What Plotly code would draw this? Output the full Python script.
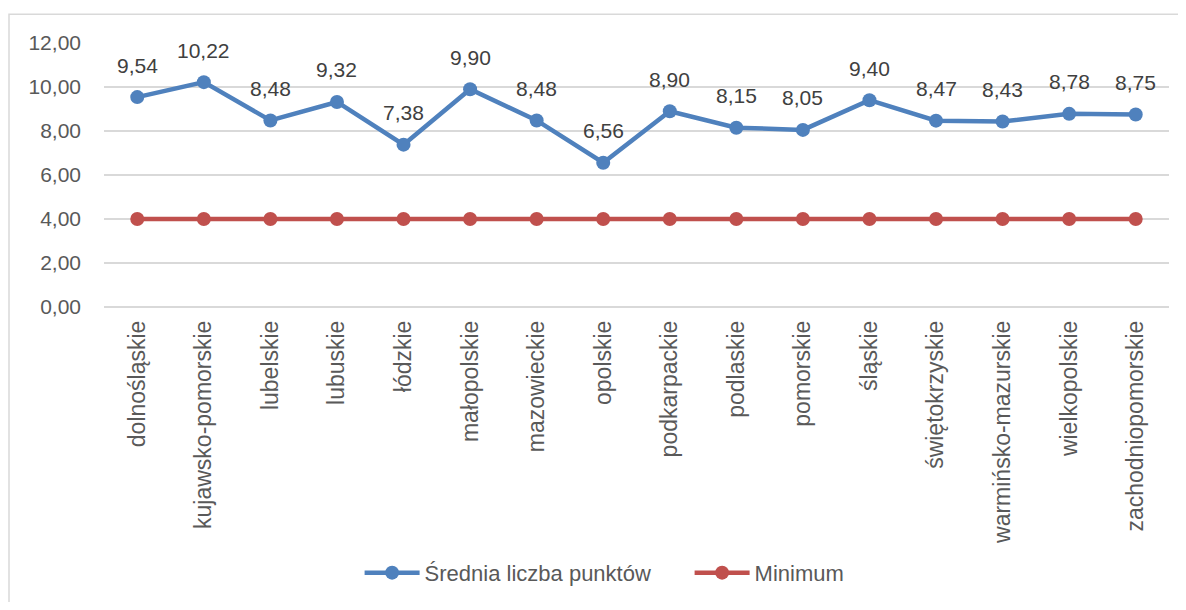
import plotly.graph_objects as go

categories = ["dolnośląskie", "kujawsko-pomorskie", "lubelskie", "lubuskie", "łódzkie",
              "małopolskie", "mazowieckie", "opolskie", "podkarpackie", "podlaskie",
              "pomorskie", "śląskie", "świętokrzyskie", "warmińsko-mazurskie",
              "wielkopolskie", "zachodniopomorskie"]
srednia = [9.54, 10.22, 8.48, 9.32, 7.38, 9.90, 8.48, 6.56, 8.90, 8.15, 8.05, 9.40,
           8.47, 8.43, 8.78, 8.75]
minimum = [4.00] * 16
y_ticks = [0, 2, 4, 6, 8, 10, 12]

FONT = "Liberation Sans"
GRAY = "#595959"

fig = go.Figure()
fig.add_trace(go.Scatter(x=categories, y=srednia, mode="lines+markers",
                         name="Średnia liczba punktów",
                         line=dict(color="#4F81BD", width=4.5),
                         marker=dict(size=14, color="#4F81BD")))
fig.add_trace(go.Scatter(x=categories, y=minimum, mode="lines+markers",
                         name="Minimum",
                         line=dict(color="#C0504D", width=4.5),
                         marker=dict(size=14, color="#C0504D")))

for c, v in zip(categories, srednia):
    fig.add_annotation(x=c, y=v, text=f"{v:.2f}".replace(".", ","), showarrow=False,
                       yshift=32, font=dict(family=FONT, size=21, color="#404040"))

fig.add_shape(type="rect", xref="paper", yref="paper", x0=-0.0892, x1=1.05, y0=-1.3, y1=1.109,
              line=dict(color="#D9D9D9", width=1.5), fillcolor="rgba(0,0,0,0)", layer="below")

fig.update_layout(
    width=1170, height=594,
    margin=dict(l=96, r=9, t=35, b=293),
    paper_bgcolor="white", plot_bgcolor="white",
    separators=", ",
    font=dict(family=FONT, size=18, color=GRAY),
    showlegend=True,
    legend=dict(orientation="h", x=0.24, xanchor="left", y=-1.007, yanchor="middle",
                font=dict(family=FONT, size=22, color=GRAY), itemwidth=55,
                entrywidth=260, entrywidthmode="pixels",
                traceorder="normal"),
    xaxis=dict(tickangle=-90, showgrid=False, showline=False, ticks="",
               ticklabelstandoff=8,
               tickfont=dict(family=FONT, size=23, color=GRAY), range=[-0.5, 15.5]),
    yaxis=dict(range=[0, 12], tickvals=y_ticks, tickformat=".2f", showgrid=True,
               gridcolor="#D9D9D9", gridwidth=1.5, zeroline=True, zerolinecolor="#D9D9D9",
               zerolinewidth=1.5, ticks="", ticklabelstandoff=22,
               tickfont=dict(family=FONT, size=21, color=GRAY)),
)

fig.write_html("out.html")
